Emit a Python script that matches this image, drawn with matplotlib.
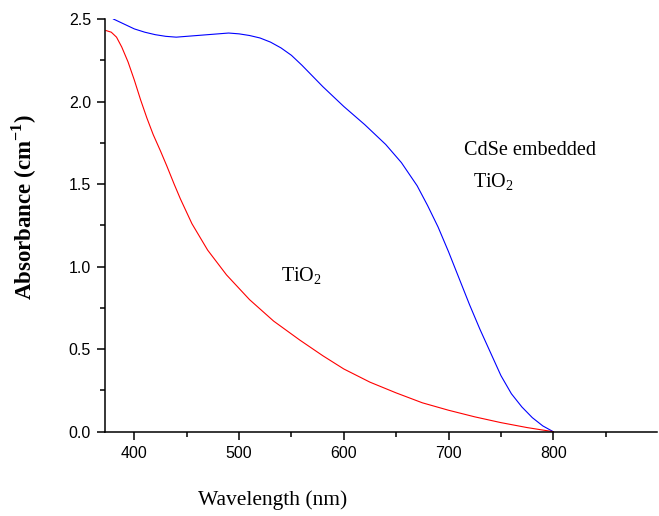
import numpy as np
import matplotlib
matplotlib.use("Agg")
from matplotlib import pyplot as plt
from matplotlib.ticker import MultipleLocator

plt.rcParams["mathtext.fontset"] = "custom"
plt.rcParams["mathtext.rm"] = "Liberation Serif"
plt.rcParams["mathtext.bf"] = "Liberation Serif:bold"

# CdSe embedded TiO2 (blue)
wl_cdse = [380, 390, 400, 410, 420, 430, 440, 460, 480, 490, 500, 510, 520,
           530, 540, 550, 560, 580, 600, 620, 640, 655, 670, 680, 690, 700,
           710, 720, 730, 740, 750, 760, 770, 780, 790, 800]
abs_cdse = [2.50, 2.47, 2.44, 2.42, 2.405, 2.395, 2.39, 2.40, 2.41, 2.415,
            2.41, 2.40, 2.385, 2.36, 2.325, 2.28, 2.22, 2.09, 1.97, 1.86,
            1.74, 1.63, 1.49, 1.37, 1.24, 1.09, 0.93, 0.77, 0.62, 0.48, 0.34,
            0.23, 0.15, 0.085, 0.035, 0.0]

# bare TiO2 (red)
wl_tio2 = [373, 378, 383, 388, 394, 400, 406, 412, 418, 425, 431, 438, 444,
           455, 470, 488, 510, 533, 558, 580, 600, 625, 650, 675, 700, 725,
           750, 775, 800]
abs_tio2 = [2.43, 2.42, 2.39, 2.33, 2.24, 2.13, 2.01, 1.90, 1.80, 1.70, 1.61,
            1.50, 1.41, 1.26, 1.10, 0.95, 0.80, 0.67, 0.555, 0.46, 0.38, 0.30,
            0.235, 0.175, 0.13, 0.09, 0.055, 0.025, 0.0]

x_ticks = [400, 500, 600, 700, 800]
y_ticks = [0.0, 0.5, 1.0, 1.5, 2.0, 2.5]
y_ticklabels = ["0.0", "0.5", "1.0", "1.5", "2.0", "2.5"]

fig = plt.figure(figsize=(6.59, 5.16), dpi=100)
ax = fig.add_axes([105 / 659, 84.3 / 516, 552.5 / 659, 412.7 / 516])

ax.plot(wl_cdse, abs_cdse, color="#0000ff", lw=0.8)
ax.plot(wl_tio2, abs_tio2, color="#ff0000", lw=0.8)

ax.set_xlim(372, 899.5)
ax.set_ylim(0, 2.5)
ax.set_xticks(x_ticks)
ax.set_yticks(y_ticks)
ax.set_yticklabels(y_ticklabels)
ax.xaxis.set_minor_locator(MultipleLocator(50))
ax.yaxis.set_minor_locator(MultipleLocator(0.25))
ax.tick_params(which="major", direction="out", length=6, width=1.1,
               labelsize=11.5, pad=4)
ax.tick_params(which="minor", direction="out", length=3.5, width=1.1)
for lab in ax.get_xticklabels() + ax.get_yticklabels():
    lab.set_family("Liberation Sans")

ax.spines["top"].set_visible(False)
ax.spines["right"].set_visible(False)
ax.spines["left"].set_linewidth(1.1)
ax.spines["bottom"].set_linewidth(1.1)

fig.text(273 / 659, 1 - 500 / 516, "Wavelength (nm)", family="Liberation Serif",
         fontsize=15.5, ha="center", va="center")
fig.text(24 / 659, 1 - 207 / 516, r"Absorbance (cm$^{\mathregular{-1}}$)",
         family="Liberation Serif", fontweight="bold", fontsize=16.5,
         rotation=90, ha="center", va="center")

ax.text(715, 1.675, "CdSe embedded", family="Liberation Serif", fontsize=14.5,
        ha="left", va="baseline")
ax.text(723, 1.477, r"TiO$_2$", family="Liberation Serif", fontsize=14.5,
        ha="left", va="baseline")
ax.text(540, 0.908, r"TiO$_2$", family="Liberation Serif", fontsize=14.5,
        ha="left", va="baseline")

fig.savefig("out.png", dpi=100)
